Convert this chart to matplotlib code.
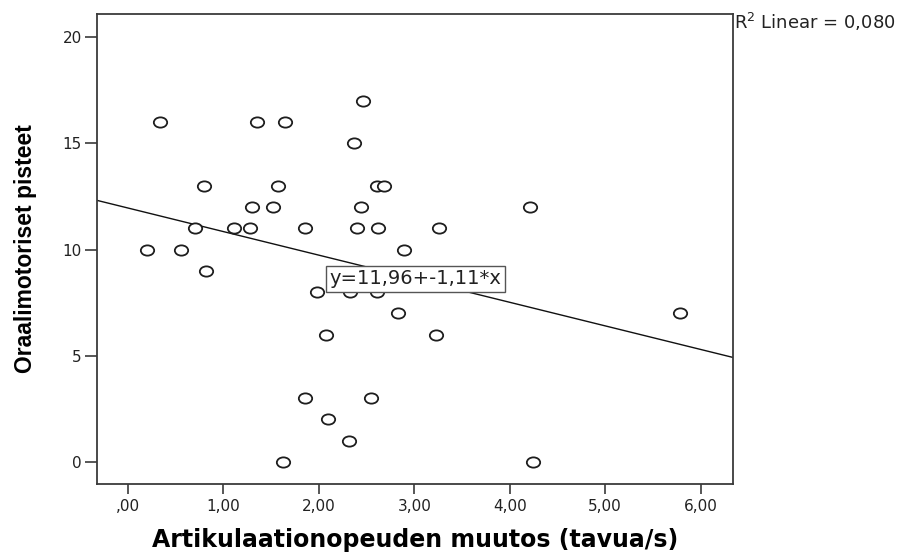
import numpy as np
import matplotlib
matplotlib.use("Agg")
import matplotlib.pyplot as plt
from matplotlib.path import Path
from matplotlib.transforms import Affine2D

# change in articulation rate vs. oral-motor score
muutos = [0.34, 1.35, 1.65, 2.46, 2.37, 0.80, 1.57, 2.61, 2.68, 1.30,
          1.52, 2.44, 4.21, 0.70, 1.11, 1.28, 1.86, 2.40, 2.62, 3.26,
          0.20, 0.56, 2.89, 0.82, 1.98, 2.33, 2.61, 2.83, 5.78, 3.23,
          2.07, 1.85, 2.55, 2.10, 2.32, 1.62, 4.24]
pisteet = [16, 16, 16, 17, 15, 13, 13, 13, 13, 12,
           12, 12, 12, 11, 11, 11, 11, 11, 11, 11,
           10, 10, 10, 9, 8, 8, 8, 7, 7, 6,
           6, 3, 3, 2, 1, 0, 0]

intercept = 11.96
slope = -1.11
r2 = 0.080

xticks = [0, 1, 2, 3, 4, 5, 6]
xticklabels = [",00", "1,00", "2,00", "3,00", "4,00", "5,00", "6,00"]
yticks = [0, 5, 10, 15, 20]

dark = "#3a3a3a"

fig = plt.figure(figsize=(9.04, 5.55), dpi=100)
ax = fig.add_axes([0.1073, 0.1279, 0.7035, 0.8469])

xmin, xmax = -0.325, 6.34
ax.set_xlim(xmin, xmax)
ax.set_ylim(-1.04, 21.1)

# slightly wide open ellipse for the markers
oval = Affine2D().scale(1.3, 1.0).transform_path(Path.unit_circle())
ax.plot(muutos, pisteet, linestyle="none", marker=oval, markersize=9.6,
        markerfacecolor="white", markeredgecolor="#1e1e1e",
        markeredgewidth=1.3, zorder=3)

# linear fit line across the whole axis
fx = np.array([xmin, xmax])
ax.plot(fx, intercept + slope * fx, color="#111111", linewidth=1.0, zorder=2)

eq = "y=" + f"{intercept:.2f}".replace(".", ",") + "+" + f"{slope:.2f}".replace(".", ",") + "*x"
ax.text(3.01, 8.63, eq, ha="center", va="center", fontsize=14,
        family="DejaVu Sans", color="#222222", zorder=4,
        bbox=dict(boxstyle="square,pad=0.18", facecolor="white",
                  edgecolor="#555555", linewidth=1.0))

ax.set_xticks(xticks)
ax.set_xticklabels(xticklabels)
ax.set_yticks(yticks)
ax.tick_params(axis="x", length=7, width=1.2, color=dark, labelsize=11,
               pad=4, labelcolor="#222222")
ax.tick_params(axis="y", length=9, width=1.2, color=dark, labelsize=11,
               pad=2, labelcolor="#222222")
for lab in ax.get_xticklabels() + ax.get_yticklabels():
    lab.set_family("DejaVu Sans")

for s in ax.spines.values():
    s.set_color(dark)
    s.set_linewidth(1.3)

ax.set_xlabel("Artikulaationopeuden muutos (tavua/s)", fontsize=17,
              fontweight="bold", family="DejaVu Sans", labelpad=10)
ax.set_ylabel("Oraalimotoriset pisteet", fontsize=16.5, fontweight="bold",
              family="Liberation Sans", labelpad=18)

fig.text(0.812, 1 - 22 / 555,
         "R$^{2}$ Linear = " + f"{r2:.3f}".replace(".", ","),
         ha="left", va="center", fontsize=13, family="DejaVu Sans",
         color="#222222")

fig.savefig("out.png", dpi=100)
